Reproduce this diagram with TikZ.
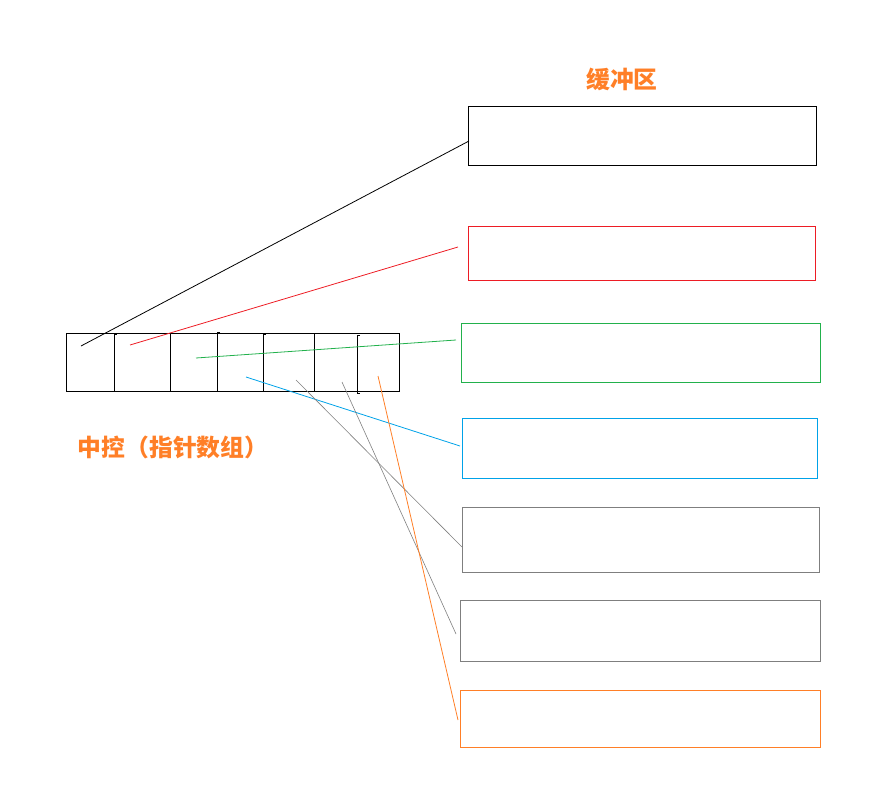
\documentclass[tikz,border=0pt]{standalone}
\usepackage{fontspec}
\newfontfamily\cjk{Noto Sans CJK SC}
\definecolor{pred}{HTML}{ED1C24}
\definecolor{pgreen}{HTML}{22B14C}
\definecolor{pblue}{HTML}{00A2E8}
\definecolor{pgray}{HTML}{7F7F7F}
\definecolor{porange}{HTML}{FF7F27}
\tikzset{
  buf/.style={draw, line width=1pt, inner sep=0pt, anchor=north west},
  link/.style={line width=0.8pt},
  lbl/.style={text=porange, font=\cjk\bfseries\fontsize{23.8}{26}\selectfont, inner sep=0pt},
  div/.style={line width=1pt},
}
\begin{document}
\begin{tikzpicture}[x=1pt,y=-1pt]
\useasboundingbox (0,0) rectangle (883,784);
% labels
\node[lbl] (t1) at (622,79) {缓冲区};
\node[lbl] (t2) at (173,447) {中控（指针数组）};
% array
\node[draw, line width=1pt, inner sep=0pt, anchor=north west, minimum width=333pt, minimum height=58pt] (arr) at (66,333) {};
\draw[div] (117,334) -- (114,334) -- (114,391) -- (117,391);
\draw[div] (170,333) -- (170,391);
\draw[div] (220,332) -- (217,332) -- (217,391) -- (220,391);
\draw[div] (266,334) -- (263,334) -- (263,391) -- (266,391);
\draw[div] (314,333) -- (314,391);
\draw[div] (360,335) -- (357,335) -- (357,393) -- (360,393);
% buffers
\node[buf, minimum width=348pt, minimum height=59pt] (b1) at (468,106) {};
\node[buf, draw=pred, minimum width=347pt, minimum height=54pt] (b2) at (468,226) {};
\node[buf, draw=pgreen, minimum width=359pt, minimum height=59pt] (b3) at (461,323) {};
\node[buf, draw=pblue, minimum width=355pt, minimum height=60pt] (b4) at (462,418) {};
\node[buf, draw=pgray, minimum width=357pt, minimum height=65pt] (b5) at (462,507) {};
\node[buf, draw=pgray, minimum width=360pt, minimum height=61pt] (b6) at (460,600) {};
\node[buf, draw=porange, minimum width=360pt, minimum height=57pt] (b7) at (460,690) {};
% pointer start points
\coordinate (p1) at (81,346);
\coordinate (p2) at (130,345);
\coordinate (p3) at (196,358);
\coordinate (p4) at (246,377);
\coordinate (p5) at (296,380);
\coordinate (p6) at (342,382);
\coordinate (p7) at (378,376);
% pointer end points
\coordinate (e1) at (469,141);
\coordinate (e2) at (458,247);
\coordinate (e3) at (456,340);
\coordinate (e4) at (460,446);
\coordinate (e5) at (462,547);
\coordinate (e6) at (456,634);
\coordinate (e7) at (458,720);
\draw[link] (p1) -- (e1);
\draw[link, pred] (p2) -- (e2);
\draw[link, pgreen] (p3) -- (e3);
\draw[link, pblue] (p4) -- (e4);
\draw[link, pgray, line width=0.6pt] (p5) -- (e5);
\draw[link, pgray, line width=0.6pt] (p6) -- (e6);
\draw[link, porange] (p7) -- (e7);
\end{tikzpicture}
\end{document}
